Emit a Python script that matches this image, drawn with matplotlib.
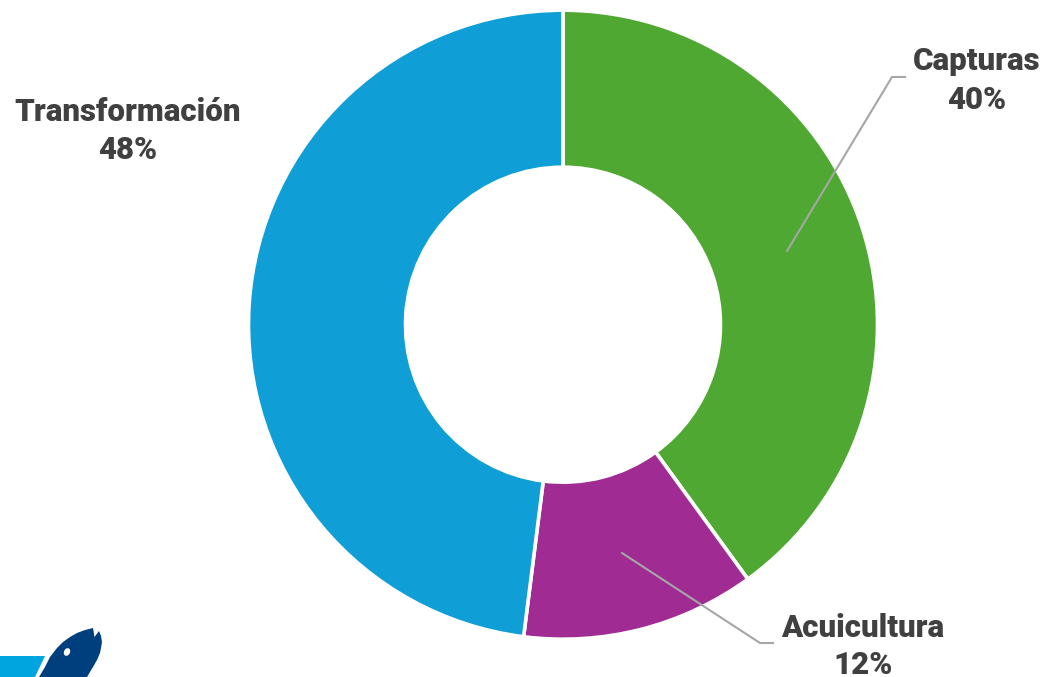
"""Donut chart of the sector shares, drawn on a pixel sized axes."""

import matplotlib
matplotlib.use('Agg')
import matplotlib.pyplot as plt
from matplotlib.patches import Ellipse, Polygon

categories = ['Capturas', 'Acuicultura', 'Transformación']
shares = [40, 12, 48]
colors = ['#4FA831', '#A02B93', '#0F9ED5']

W, H = 1046, 677
TEXT_COLOR = '#404040'
LINE_COLOR = '#A6A6A6'

plt.rcParams['font.family'] = ['Roboto', 'DejaVu Sans']

fig = plt.figure(figsize=(W / 100, H / 100), dpi=100)
ax = fig.add_axes([0, 0, 1, 1])


def py(y):
    # the reference was read with y going down
    return H - y


ax.pie(shares, colors=colors, startangle=90, counterclock=False,
       center=(563, py(324.7)), radius=314.5,
       wedgeprops=dict(width=157, edgecolor='white', linewidth=2.6))
ax.set_xlim(0, W)
ax.set_ylim(0, H)
ax.set_aspect('equal')
ax.axis('off')

# Leader lines
leaders = [[(787, 251), (892, 77), (905, 77)],
           [(622, 553), (760, 643), (773, 643)]]
for pts in leaders:
    ax.plot([p[0] for p in pts], [py(p[1]) for p in pts],
            color=LINE_COLOR, linewidth=1.5, solid_joinstyle='miter')

# Labels
label_pos = [(977, 61, 100), (863, 628, 665), (128, 112, 150)]
for name, share, (x, y1, y2) in zip(categories, shares, label_pos):
    ax.text(x, py(y1), name, ha='center', va='center', fontsize=22.5,
            fontweight='black', color=TEXT_COLOR)
    ax.text(x, py(y2), f'{share}%', ha='center', va='center', fontsize=22.5,
            fontweight='black', color=TEXT_COLOR)

# Logo cut off in the bottom left corner
stripe = [(0, 656), (45, 656), (35, 677), (0, 677)]
fish = [(39, 677), (45, 667), (50, 657), (57, 648), (63, 642), (70, 637),
        (77, 633), (85, 630), (93, 628), (94.5, 637), (99, 631), (101, 636),
        (102, 642), (101, 648), (100, 653), (97, 660), (93, 667), (87, 677)]
ax.add_patch(Polygon([(x, py(y)) for x, y in stripe], color='#00A5E0', lw=0))
ax.add_patch(Polygon([(x, py(y)) for x, y in fish], color='#003F7D', lw=0))
ax.add_patch(Ellipse((67, py(652)), 6, 8, angle=-25, color='white', lw=0))

fig.savefig('out.png', dpi=100)
